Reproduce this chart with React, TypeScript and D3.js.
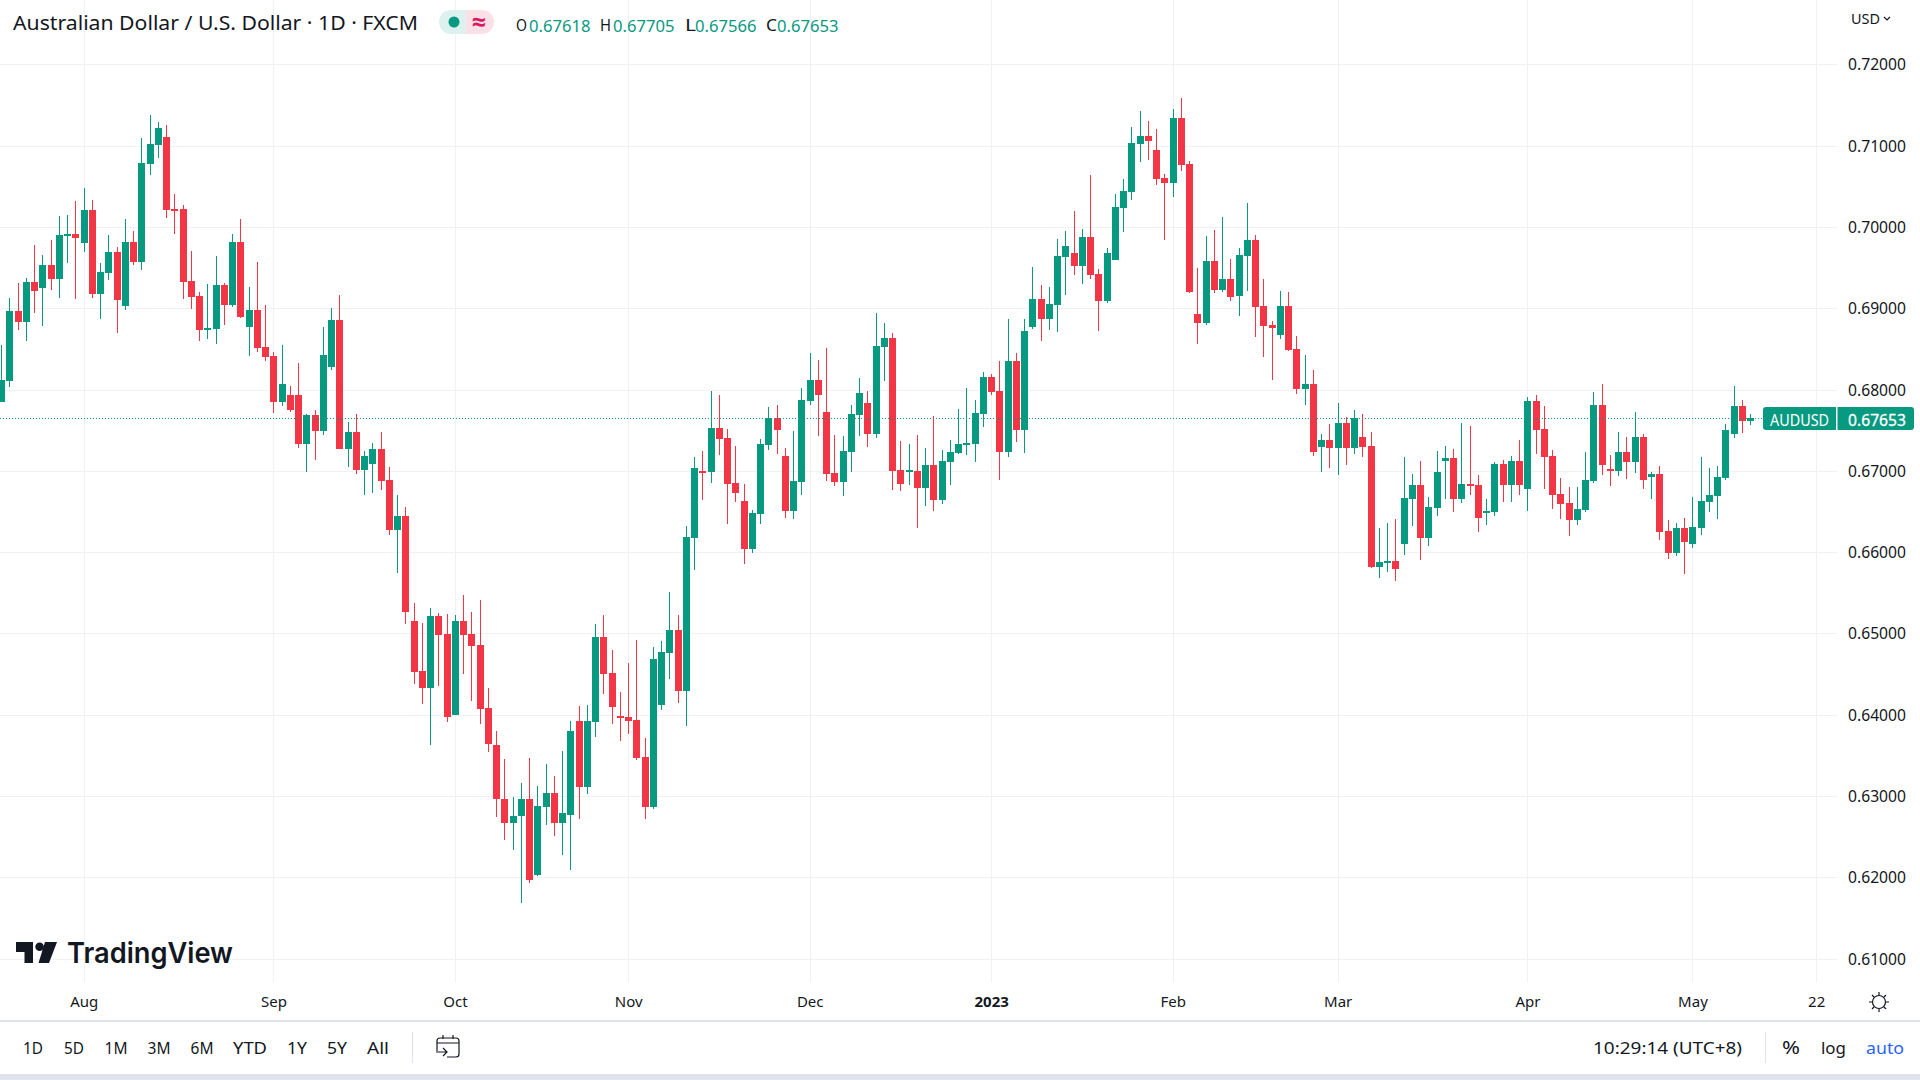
// AUD/USD daily candles, TradingView-style layout.
import * as d3 from "d3";

const opens = [
  0.67844,0.68103,0.68964,0.68829,0.69321,0.69247,0.6953,0.69358,0.69887,0.69912,
  0.69801,0.70207,0.69173,0.69432,0.6969,0.69026,0.69814,0.69567,0.70774,0.71007,
  0.71106,0.7022,0.7022,0.69334,0.69149,0.6873,0.68743,0.69284,0.69038,0.69814,
  0.68767,0.68977,0.68521,0.6841,0.67844,0.6793,0.6793,0.67327,0.67684,0.67487,
  0.68275,0.68854,0.67266,0.67475,0.67007,0.67081,0.67266,0.66884,0.66269,0.66441,
  0.65149,0.64534,0.64324,0.6521,0.64989,0.63992,0.65149,0.64989,0.64854,0.64078,
  0.63623,0.6297,0.62675,0.62749,0.6297,0.62035,0.6286,0.63032,0.62663,0.62773,
  0.63918,0.63106,0.63906,0.64952,0.64509,0.6398,0.63967,0.6393,0.63475,0.6286,
  0.64115,0.64755,0.65038,0.64287,0.6617,0.66995,0.66983,0.67524,0.67401,0.66847,
  0.66626,0.66035,0.66466,0.67315,0.67647,0.6718,0.66503,0.6686,0.67857,0.68115,
  0.67721,0.6697,0.6686,0.67229,0.67684,0.67832,0.6745,0.68521,0.68632,0.67007,
  0.66983,0.66995,0.66786,0.67069,0.66638,0.67106,0.67217,0.67315,0.67327,0.67697,
  0.68152,0.6798,0.67229,0.68349,0.675,0.68767,0.69112,0.68866,0.69038,0.69629,
  0.69678,0.69518,0.69875,0.6942,0.69087,0.69592,0.70232,0.70429,0.7102,0.71118,
  0.70946,0.70601,0.7054,0.7134,0.70774,0.68927,0.68817,0.6958,0.69223,0.69358,
  0.69149,0.69641,0.69838,0.69026,0.68792,0.68669,0.69026,0.68497,0.68004,0.68066,
  0.6729,0.67377,0.67278,0.67586,0.67278,0.67413,0.67303,0.65813,0.65863,0.65887,
  0.66097,0.6665,0.66823,0.6617,0.6654,0.67118,0.67155,0.6665,0.66835,0.66823,
  0.6649,0.6649,0.67081,0.66823,0.67118,0.66773,0.67857,0.67512,0.6718,0.66712,
  0.66601,0.66392,0.66515,0.66872,0.67807,0.6702,0.66995,0.67229,0.67106,0.67413,
  0.66921,0.66958,0.66257,0.65986,0.66293,0.66097,0.66293,0.66614,0.66687,0.66909,
  0.6745,0.67795,0.67618,
];

const highs = [
  0.68546,0.6912,0.69305,0.69366,0.69777,0.69654,0.69838,0.70134,0.70146,0.70318,
  0.70478,0.7033,0.69555,0.699,0.69752,0.70097,0.69949,0.71094,0.71377,0.7129,
  0.71254,0.70404,0.70269,0.69703,0.69198,0.69297,0.69641,0.69309,0.69912,0.70097,
  0.6926,0.69567,0.69038,0.6846,0.68546,0.68041,0.68324,0.67697,0.67746,0.68767,
  0.69001,0.69161,0.67598,0.67697,0.67241,0.6734,0.67475,0.67044,0.667,0.66552,
  0.6537,0.65124,0.65309,0.65247,0.65235,0.65223,0.65469,0.6526,0.65407,0.64324,
  0.63795,0.63451,0.62983,0.63155,0.63463,0.63118,0.63389,0.63241,0.63549,0.63918,
  0.64103,0.64115,0.65112,0.65223,0.64792,0.64275,0.64632,0.64915,0.63709,0.64829,
  0.64903,0.65506,0.65223,0.66318,0.67167,0.67241,0.6798,0.6793,0.67512,0.67303,
  0.66835,0.66515,0.67389,0.67783,0.67807,0.67278,0.67487,0.68017,0.68447,0.68361,
  0.68509,0.67438,0.67426,0.67807,0.6814,0.6798,0.6894,0.68817,0.68694,0.67364,
  0.67327,0.67438,0.67278,0.67672,0.67253,0.67377,0.67758,0.68017,0.67869,0.68213,
  0.68189,0.68349,0.68866,0.68447,0.68866,0.69506,0.69284,0.6926,0.6985,0.69949,
  0.70195,0.69974,0.70638,0.69481,0.6974,0.70404,0.70589,0.71229,0.71426,0.71303,
  0.71204,0.7065,0.7145,0.71586,0.7081,0.69494,0.69887,0.69961,0.70121,0.69604,
  0.6974,0.70294,0.699,0.69358,0.68841,0.6921,0.69198,0.68657,0.68423,0.68238,
  0.6745,0.67573,0.67832,0.6766,0.67746,0.67697,0.67475,0.66293,0.66355,0.66404,
  0.67167,0.66958,0.67118,0.66675,0.67241,0.67303,0.67266,0.67586,0.67549,0.66946,
  0.6665,0.67106,0.6713,0.6718,0.67377,0.67906,0.6793,0.67795,0.67253,0.66909,
  0.66798,0.66798,0.67229,0.67967,0.68066,0.67192,0.67475,0.67413,0.67721,0.6745,
  0.66983,0.67056,0.66392,0.66355,0.66417,0.66675,0.67167,0.67032,0.67056,0.67573,
  0.68041,0.67869,0.67705,
];

const lows = [
  0.67844,0.68029,0.6873,0.68595,0.68936,0.6878,0.69223,0.69124,0.69551,0.69112,
  0.6969,0.69124,0.68866,0.69346,0.68694,0.68977,0.6953,0.69469,0.70638,0.70847,
  0.70109,0.69912,0.69112,0.68989,0.68595,0.6862,0.68558,0.68792,0.69014,0.68878,
  0.6841,0.6846,0.68349,0.67709,0.67795,0.67721,0.67278,0.66983,0.6713,0.67438,
  0.68238,0.67266,0.67044,0.66958,0.667,0.66724,0.66761,0.66207,0.6574,0.65112,
  0.64374,0.64127,0.63623,0.64349,0.63906,0.63992,0.64496,0.64164,0.63881,0.63537,
  0.62737,0.62466,0.62343,0.6169,0.61936,0.62023,0.6265,0.62503,0.62281,0.62097,
  0.62712,0.6302,0.63721,0.6425,0.63881,0.63672,0.63758,0.63438,0.62712,0.62847,
  0.64053,0.64435,0.6414,0.63857,0.65777,0.66638,0.66847,0.67192,0.66343,0.66614,
  0.6585,0.65986,0.66343,0.67253,0.67204,0.66417,0.66404,0.667,0.67807,0.67426,
  0.66872,0.6681,0.66687,0.66983,0.67426,0.6729,0.67401,0.68103,0.66761,0.66749,
  0.66823,0.66293,0.66564,0.66503,0.66589,0.66823,0.67204,0.67192,0.67106,0.67537,
  0.6793,0.66884,0.67167,0.67352,0.67217,0.68743,0.68595,0.6873,0.68706,0.69161,
  0.69407,0.69297,0.69358,0.68718,0.69063,0.69592,0.69937,0.7033,0.70798,0.70823,
  0.70515,0.69838,0.70367,0.70687,0.69186,0.68558,0.68792,0.69186,0.69198,0.69087,
  0.68903,0.6921,0.68644,0.68398,0.68115,0.6862,0.68472,0.67943,0.67807,0.6718,
  0.66983,0.67032,0.66946,0.67069,0.67204,0.67167,0.65801,0.65678,0.65752,0.65641,
  0.65961,0.66318,0.659,0.66072,0.66441,0.6665,0.6649,0.66601,0.667,0.66244,
  0.6633,0.66441,0.66614,0.66614,0.667,0.66503,0.67204,0.66773,0.66527,0.66404,
  0.66195,0.6633,0.6649,0.66847,0.66946,0.6681,0.66933,0.66897,0.6697,0.66773,
  0.6665,0.66146,0.65912,0.65949,0.65727,0.66047,0.66207,0.6649,0.66404,0.66884,
  0.67401,0.67463,0.67566,
];

const closes = [
  0.68115,0.68964,0.68829,0.69321,0.6921,0.6953,0.69358,0.699,0.69912,0.69863,
  0.70207,0.69173,0.69444,0.6969,0.691,0.69814,0.69567,0.70786,0.7102,0.71217,
  0.70207,0.70207,0.69321,0.69137,0.6873,0.68755,0.69284,0.69038,0.69814,0.6889,
  0.68977,0.68509,0.68398,0.67844,0.68066,0.67746,0.67327,0.67684,0.67487,0.68423,
  0.68854,0.67266,0.67475,0.67007,0.6718,0.67266,0.66872,0.66269,0.66441,0.6526,
  0.64521,0.64324,0.6521,0.64977,0.63967,0.65149,0.64977,0.64841,0.64066,0.63635,
  0.62958,0.62675,0.62761,0.6297,0.61973,0.62872,0.63032,0.62663,0.62786,0.63795,
  0.63106,0.63918,0.64952,0.64496,0.6409,0.63955,0.63918,0.63463,0.6286,0.64681,
  0.64767,0.65038,0.64287,0.66183,0.67032,0.66983,0.67524,0.67389,0.66835,0.66724,
  0.66035,0.66478,0.67327,0.67647,0.675,0.66503,0.66872,0.67869,0.68115,0.6793,
  0.66958,0.6686,0.67241,0.67697,0.67955,0.6745,0.68534,0.68632,0.66995,0.66835,
  0.67007,0.66786,0.67069,0.66638,0.67118,0.67229,0.67327,0.6734,0.67709,0.68152,
  0.67967,0.67229,0.68349,0.675,0.68718,0.69112,0.68866,0.6905,0.69641,0.69764,
  0.69518,0.69875,0.69407,0.69087,0.69678,0.70244,0.70441,0.71032,0.71118,0.71057,
  0.70589,0.7054,0.7134,0.70761,0.69198,0.68817,0.6958,0.69223,0.69358,0.69137,
  0.69654,0.69838,0.69014,0.6878,0.68755,0.69026,0.68484,0.68004,0.68066,0.67229,
  0.67377,0.67278,0.67586,0.67278,0.67647,0.6729,0.65813,0.65875,0.65887,0.65789,
  0.66663,0.66823,0.6617,0.66552,0.66983,0.67155,0.6665,0.66835,0.6681,0.66417,
  0.66503,0.67081,0.66823,0.67118,0.66823,0.67857,0.675,0.67167,0.667,0.66589,
  0.66392,0.66527,0.66884,0.67807,0.67069,0.66995,0.67229,0.67106,0.67413,0.66884,
  0.66958,0.66244,0.65986,0.66293,0.66121,0.66306,0.66626,0.667,0.66921,0.675,
  0.67795,0.6761,0.67653,
];

const priceTicks = [0.72, 0.71, 0.7, 0.69, 0.68, 0.67, 0.66, 0.65, 0.64, 0.63, 0.62, 0.61];
const timeLabels = ["Aug", "Sep", "Oct", "Nov", "Dec", "2023", "Feb", "Mar", "Apr", "May", "22"];
// bar number of the first session of each label
const timeBars = [10, 33, 55, 76, 98, 120, 142, 162, 185, 205, 220];
const rangeLabels = ["1D", "5D", "1M", "3M", "6M", "YTD", "1Y", "5Y", "All"];
const rangeCenters = [33, 74, 116, 159, 202, 250, 297, 337, 378];
const rangeWidths = [20, 20, 23, 23, 23, 34, 20, 20, 22];

const UP = "#089981";
const DOWN = "#f23645";
const GRID = "#f1f1f4";
const INK = "#131722";
const FONT = "'Noto Sans', 'Open Sans', sans-serif";

const x = d3.scaleLinear().domain([0, 212]).range([1.7, 1750.7]);
const y = d3.scaleLinear().domain([0.61, 0.72]).range([958.7, 64.3]);
const fmt = d3.format(".5f");

const PLOT_RIGHT = 1837;
const PLOT_BOTTOM = 982;

function Label(props: any) {
  const { children, fill = INK, size = 15.5, anchor = "start", ...rest } = props;
  return (
    <text fill={fill} fontSize={size} textAnchor={anchor} fontFamily={FONT} dominantBaseline="central" {...rest}>
      {children}
    </text>
  );
}

function Header() {
  const ohlc = [
    { key: "O", kx: 516, vx: 529, v: opens[212] },
    { key: "H", kx: 600, vx: 613, v: highs[212] },
    { key: "L", kx: 685, vx: 695, v: lows[212] },
    { key: "C", kx: 766, vx: 777, v: closes[212] },
  ];
  return (
    <g>
      <Label x={13} y={22} size={20.5} textLength={405} lengthAdjust="spacingAndGlyphs">
        Australian Dollar / U.S. Dollar · 1D · FXCM
      </Label>
      <path d="M466 10H451a12 12 0 0 0 0 24H466Z" fill="#ddf2ee" />
      <path d="M466 10H482a12 12 0 0 1 0 24H466Z" fill="#fce0e8" />
      <circle cx={454} cy={22} r={5.5} fill={UP} />
      <Label x={479} y={21} size={25} anchor="middle" fill="#d81b60" fontWeight={700}>≈</Label>
      {ohlc.map((d) => (
        <g key={d.key}>
          <Label x={d.kx} y={25} size={16} textLength={11} lengthAdjust="spacingAndGlyphs">{d.key}</Label>
          <Label x={d.vx} y={25} size={16.5} fill={UP} textLength={61.5} lengthAdjust="spacingAndGlyphs">{fmt(d.v)}</Label>
        </g>
      ))}
    </g>
  );
}

function Logo() {
  return (
    <g fill={INK}>
      <path d="M16 942H33V963H24.5V952H16Z" />
      <circle cx={39.6} cy={946.8} r={4.3} />
      <path d="M45 942H57L49 963H38.5Z" />
      <text x={67} y={962.5} fontSize={28.5} fontWeight={600} fontFamily="Inter, sans-serif" textLength={166} lengthAdjust="spacingAndGlyphs">
        TradingView
      </text>
    </g>
  );
}

function Candles() {
  return (
    <g shapeRendering="crispEdges">
      {closes.map((c, i) => {
        const o = opens[i];
        const color = c >= o ? UP : DOWN;
        const cx = Math.floor(x(i));
        const top = Math.round(y(Math.max(o, c)));
        const bot = Math.round(y(Math.min(o, c)));
        const hi = Math.round(y(highs[i]));
        const lo = Math.round(y(lows[i]));
        return (
          <g key={i} fill={color}>
            <rect x={cx} y={hi} width={1} height={Math.max(lo - hi, 1)} />
            <rect x={cx - 3} y={top} width={7} height={Math.max(bot - top, 2)} />
          </g>
        );
      })}
    </g>
  );
}

function Toolbar() {
  return (
    <g>
      <rect x={0} y={1020} width={1920} height={2} fill="#e0e3eb" />
      <rect x={0} y={1074} width={1920} height={6} fill="#e0e3eb" />
      {rangeLabels.map((t, i) => (
        <Label key={t} x={rangeCenters[i]} y={1047} size={17} anchor="middle" textLength={rangeWidths[i]} lengthAdjust="spacingAndGlyphs">{t}</Label>
      ))}
      <rect x={412} y={1032} width={1} height={31} fill="#e0e3eb" />
      <g fill="none" stroke={INK} strokeWidth={1.2}>
        <path d="M437 1051V1041a3 3 0 0 1 3-3H456a3 3 0 0 1 3 3V1054a3 3 0 0 1-3 3H447" />
        <path d="M437 1043H459M443 1035V1039M453 1035V1039" />
        <path d="M436 1052H447M443 1048L447 1052L443 1056" />
      </g>
      <Label x={1593} y={1047} size={17} textLength={149} lengthAdjust="spacingAndGlyphs">10:29:14 (UTC+8)</Label>
      <rect x={1765} y={1032} width={1} height={31} fill="#e0e3eb" />
      <Label x={1791} y={1047} size={18} anchor="middle" textLength={18} lengthAdjust="spacingAndGlyphs">%</Label>
      <Label x={1833.5} y={1047} size={17} anchor="middle" textLength={25} lengthAdjust="spacingAndGlyphs">log</Label>
      <Label x={1885} y={1047} size={17} anchor="middle" fill="#2962ff" textLength={38} lengthAdjust="spacingAndGlyphs">auto</Label>
    </g>
  );
}

export default function App() {
  const lastY = Math.round(y(closes[212]));
  return (
    <svg
      width={1920}
      height={1080}
      viewBox="0 0 1920 1080"
      style={{ position: "absolute", left: 0, top: 0, background: "#fff" }}
    >
      <g shapeRendering="crispEdges" stroke={GRID}>
        {priceTicks.map((p) => (
          <line key={p} x1={0} x2={PLOT_RIGHT} y1={Math.round(y(p)) + 0.5} y2={Math.round(y(p)) + 0.5} />
        ))}
        {timeBars.map((b) => (
          <line key={b} x1={Math.floor(x(b)) + 0.5} x2={Math.floor(x(b)) + 0.5} y1={0} y2={PLOT_BOTTOM} />
        ))}
      </g>

      <Candles />

      <line
        x1={0}
        x2={1763}
        y1={lastY + 0.5}
        y2={lastY + 0.5}
        stroke={UP}
        strokeDasharray="1 2"
        shapeRendering="crispEdges"
      />

      <Header />
      <Logo />

      {priceTicks.map((p) => (
        <Label key={p} x={1848} y={y(p)} textLength={58} lengthAdjust="spacingAndGlyphs">{fmt(p)}</Label>
      ))}
      <Label x={1851} y={18} size={15} textLength={29} lengthAdjust="spacingAndGlyphs">USD</Label>
      <path d="M1884 17L1887 20L1890 17" fill="none" stroke={INK} strokeWidth={1.2} />

      <rect x={1763} y={407} width={151} height={23} rx={3} fill={UP} />
      <rect x={1836} y={407} width={1.5} height={23} fill="#fff" />
      <Label x={1770} y={419} fill="#fff" size={17} textLength={59} lengthAdjust="spacingAndGlyphs">AUDUSD</Label>
      <Label x={1848} y={419} fill="#fff" size={16.5} stroke="#fff" strokeWidth={0.3} textLength={58} lengthAdjust="spacingAndGlyphs">{fmt(closes[212])}</Label>

      {timeLabels.map((t, i) => (
        <Label key={t} x={x(timeBars[i])} y={1001} size={15} anchor="middle" fontWeight={t === "2023" ? 700 : 400}>
          {t}
        </Label>
      ))}
      <g fill="none" stroke={INK} strokeWidth={1.2}>
        <circle cx={1879} cy={1002} r={6.5} />
        <path d="M1879 992V995M1879 1009V1012M1869 1002H1872M1886 1002H1889M1872 995L1874 997M1884 1007L1886 1009M1886 995L1884 997M1874 1007L1872 1009" />
      </g>

      <Toolbar />
    </svg>
  );
}
